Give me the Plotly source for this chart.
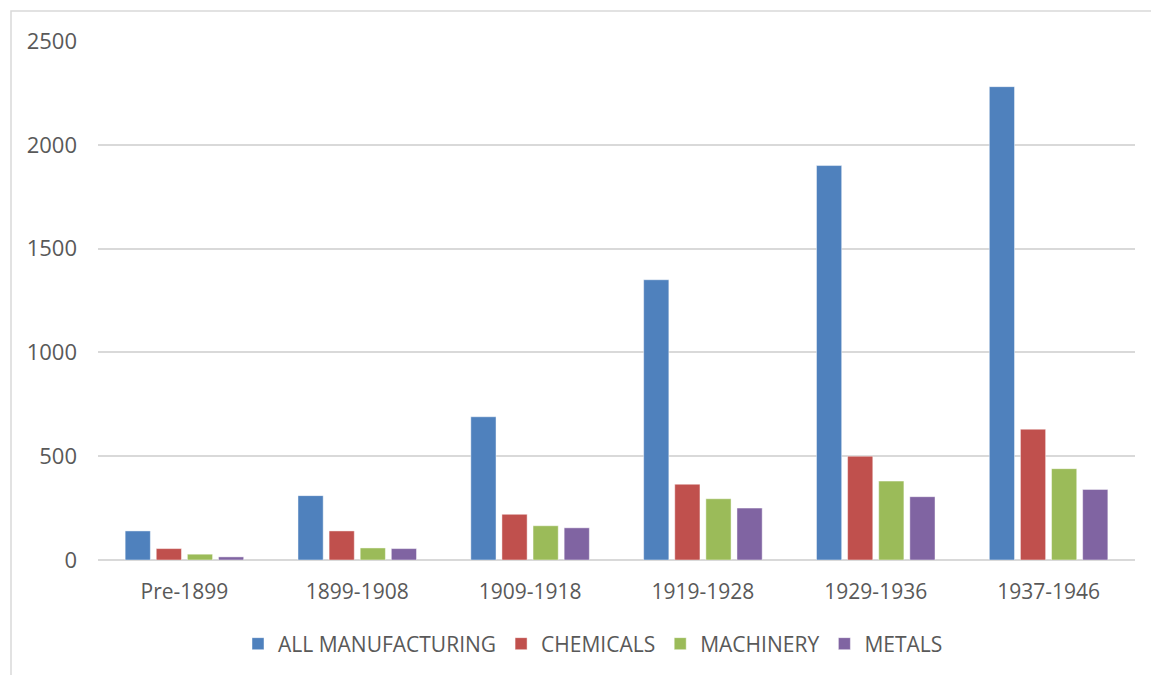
import plotly.graph_objects as go

periods = ["Pre-1899", "1899-1908", "1909-1918", "1919-1928", "1929-1936", "1937-1946"]
all_manufacturing = [140, 310, 690, 1350, 1900, 2280]
chemicals = [55, 140, 220, 365, 500, 630]
machinery = [28, 58, 165, 295, 380, 440]
metals = [15, 55, 155, 250, 305, 340]
y_ticks = [0, 500, 1000, 1500, 2000, 2500]

series = [
    ("ALL MANUFACTURING", all_manufacturing, "#4f81bd"),
    ("CHEMICALS", chemicals, "#c0504d"),
    ("MACHINERY", machinery, "#9bbb59"),
    ("METALS", metals, "#8064a2"),
]

text_color = "#595959"
grid_color = "#d9d9d9"
font_family = "Open Sans, Liberation Sans, sans-serif"

fig = go.Figure()
for name, values, color in series:
    fig.add_trace(go.Bar(
        name=name,
        x=periods,
        y=values,
        marker=dict(color=color, line=dict(color="rgba(255,255,255,0.45)", width=1)),
    ))

W, H = 1151, 675
L, R, T, B = 98, 16, 41, 114
pw, ph = W - L - R, H - T - B

def px_x(x):
    return (x - L) / pw

def px_y(y):
    return (H - B - y) / ph

fig.update_layout(
    width=W,
    height=H,
    margin=dict(l=L, r=R, t=T, b=B),
    paper_bgcolor="white",
    plot_bgcolor="white",
    barmode="group",
    bargap=0.28,
    bargroupgap=0.19,
    font=dict(family=font_family, size=21, color=text_color),
    showlegend=True,
    legend=dict(
        orientation="h",
        x=px_x(593),
        xanchor="center",
        y=px_y(644),
        yanchor="middle",
        font=dict(size=21, color=text_color),
        itemwidth=30,
        traceorder="normal",
    ),
    xaxis=dict(
        showgrid=False,
        showline=False,
        ticks="",
        ticklabelstandoff=17,
        tickfont=dict(size=21, color=text_color),
    ),
    yaxis=dict(
        range=[0, 2500],
        tickvals=y_ticks,
        showgrid=True,
        gridcolor=grid_color,
        gridwidth=1.5,
        zeroline=True,
        zerolinecolor=grid_color,
        zerolinewidth=1.5,
        showline=False,
        ticks="",
        ticklabelstandoff=20,
        tickfont=dict(size=22, color=text_color),
    ),
    shapes=[
        dict(
            type="rect",
            xref="paper", yref="paper",
            x0=px_x(11), x1=px_x(W + 20),
            y0=px_y(H + 20), y1=px_y(11),
            line=dict(color=grid_color, width=1.5),
            fillcolor="rgba(0,0,0,0)",
            layer="below",
        )
    ],
)

fig.write_html("out.html")
